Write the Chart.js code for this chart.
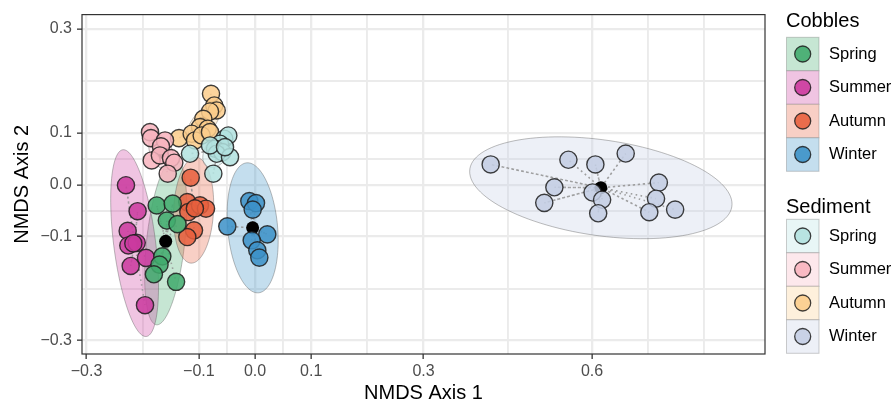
<!DOCTYPE html>
<html>
<head>
<meta charset="utf-8">
<script src="https://cdn.jsdelivr.net/npm/chart.js@4.4.1/dist/chart.umd.min.js"></script>
<style>
  html, body { margin: 0; padding: 0; background: #fff; }
  #wrap { width: 896px; height: 403px; }
</style>
</head>
<body>
<div id="wrap"><canvas id="nmds"></canvas></div>
<script>
const seasons = ['Spring', 'Summer', 'Autumn', 'Winter'];
const cobbleColors = ['#41ab6e', '#cc3a9f', '#e8603e', '#3d92c8'];
const sedimentColors = ['#b2e2e0', '#f8b4bf', '#fccd8c', '#c4cee4'];

// NMDS scores [axis1, axis2]
const cobSpring = [[-0.175, -0.040], [-0.1465, -0.0365], [-0.157, -0.069], [-0.138, -0.076],
  [-0.165, -0.138], [-0.170, -0.154], [-0.180, -0.1725], [-0.1405, -0.187]];
const cobSummer = [[-0.2297, -0.001], [-0.209, -0.051], [-0.2267, -0.089], [-0.2255, -0.117],
  [-0.2106, -0.112], [-0.2166, -0.113], [-0.194, -0.141], [-0.2213, -0.1565], [-0.1958, -0.232]];
const cobAutumn = [[-0.1145, 0.0135], [-0.1205, -0.0335], [-0.1187, -0.0527], [-0.0979, -0.0398],
  [-0.0872, -0.0462], [-0.1086, -0.0879], [-0.1205, -0.1008], [-0.107, -0.0457]];
const cobWinter = [[-0.0493, -0.0802], [-0.0101, -0.0315], [0.0018, -0.0354], [-0.0041, -0.048],
  [0.0219, -0.0956], [-0.0059, -0.1071], [0.0041, -0.1263], [0.0077, -0.1404]];

const sedSpring = [[-0.1157, 0.0596], [-0.0742, 0.0212], [-0.0547, 0.0885], [-0.0475, 0.0948],
  [-0.0623, 0.0788], [-0.0712, 0.0692], [-0.0582, 0.0627], [-0.0682, 0.0596], [-0.0445, 0.0531],
  [-0.0801, 0.0756], [-0.0534, 0.0723]];
const sedSummer = [[-0.1869, 0.1012], [-0.1852, 0.0896], [-0.1602, 0.0852], [-0.1674, 0.0737],
  [-0.1839, 0.0467], [-0.1693, 0.0563], [-0.1495, 0.0512], [-0.1437, 0.0423], [-0.1554, 0.0212]];
const sedAutumn = [[-0.0783, 0.175], [-0.0725, 0.1525], [-0.0682, 0.1429], [-0.0801, 0.141],
  [-0.092, 0.1269], [-0.0979, 0.1108], [-0.0842, 0.1077], [-0.1353, 0.0896], [-0.1127, 0.0981],
  [-0.1068, 0.0852], [-0.0949, 0.0948], [-0.0801, 0.1012]];
const sedWinter = [[0.4196, 0.039], [0.558, 0.048], [0.606, 0.039], [0.660, 0.060], [0.533, -0.005],
  [0.515, -0.035], [0.601, -0.015], [0.618, -0.029], [0.611, -0.055], [0.719, 0.004],
  [0.714, -0.027], [0.702, -0.053], [0.748, -0.048]];

// ellipse [semi-axis 1, semi-axis 2, angle of axis 1 in degrees], centred on group centroid
const cobEllipses = [[0.1615, 0.034, 84.2], [0.181, 0.0374, 96.6], [0.102, 0.0356, 87.5], [0.1256, 0.0445, 94.7]];
const sedEllipses = [[0.037, 0.022, 60], [0.035, 0.02, 110], [0.045, 0.02, 55], [0.236, 0.092, -9]];

const xTickValues = [-0.3, -0.1, 0.0, 0.1, 0.3, 0.6];
const xTickLabels = ['\u22120.3', '\u22120.1', '0.0', '0.1', '0.3', '0.6'];
const xMinorGrid = [-0.2, -0.05, 0.05, 0.2, 0.45, 0.7, 0.8];
const yTickValues = [-0.3, -0.1, 0.0, 0.1, 0.3];
const yTickLabels = ['\u22120.3', '\u22120.1', '0.0', '0.1', '0.3'];
const yMinorGrid = [-0.2, -0.05, 0.05, 0.2];

const groups = [
  { pts: cobSpring, color: cobbleColors[0], ell: cobEllipses[0] },
  { pts: cobSummer, color: cobbleColors[1], ell: cobEllipses[1] },
  { pts: cobAutumn, color: cobbleColors[2], ell: cobEllipses[2] },
  { pts: cobWinter, color: cobbleColors[3], ell: cobEllipses[3] },
  { pts: sedSpring, color: sedimentColors[0], ell: sedEllipses[0] },
  { pts: sedSummer, color: sedimentColors[1], ell: sedEllipses[1] },
  { pts: sedAutumn, color: sedimentColors[2], ell: sedEllipses[2] },
  { pts: sedWinter, color: sedimentColors[3], ell: sedEllipses[3] },
];

const FONT = "'Liberation Sans', Arial, Helvetica, sans-serif";

function rgba(hex, a) {
  const n = parseInt(hex.slice(1), 16);
  return `rgba(${n >> 16},${(n >> 8) & 255},${n & 255},${a})`;
}
function centroid(pts) {
  const sx = pts.reduce((s, p) => s + p[0], 0), sy = pts.reduce((s, p) => s + p[1], 0);
  return [sx / pts.length, sy / pts.length];
}

const datasets = [];
groups.forEach(g => {
  const c = centroid(g.pts);
  const spider = [];
  g.pts.forEach(p => { spider.push({ x: c[0], y: c[1] }); spider.push({ x: p[0], y: p[1] }); });
  datasets.push({
    type: 'line', data: spider, order: 3, borderColor: 'rgba(150,150,150,0.9)',
    borderWidth: 1.6, borderDash: [1.5, 3.5], pointRadius: 0, fill: false, tension: 0
  });
  datasets.push({
    type: 'scatter', data: [{ x: c[0], y: c[1] }], order: 2,
    pointRadius: 6.5, backgroundColor: '#000', borderColor: '#000', borderWidth: 0
  });
  datasets.push({
    type: 'scatter', data: g.pts.map(p => ({ x: p[0], y: p[1] })), order: 1,
    pointRadius: 8.6, backgroundColor: rgba(g.color, 0.86), borderColor: 'rgba(30,30,30,0.85)', borderWidth: 1.4
  });
});

const ellipsePlugin = {
  id: 'ellipses',
  beforeDatasetsDraw(chart) {
    const { ctx, chartArea, scales: { x, y } } = chart;
    ctx.save();
    ctx.beginPath();
    ctx.rect(chartArea.left, chartArea.top, chartArea.width, chartArea.height);
    ctx.clip();
    groups.forEach(g => {
      const [cx, cy] = centroid(g.pts);
      const [a, b, deg] = g.ell;
      const t = deg * Math.PI / 180;
      ctx.beginPath();
      for (let i = 0; i <= 120; i++) {
        const u = i / 120 * 2 * Math.PI;
        const dx = a * Math.cos(u) * Math.cos(t) - b * Math.sin(u) * Math.sin(t);
        const dy = a * Math.cos(u) * Math.sin(t) + b * Math.sin(u) * Math.cos(t);
        const px = x.getPixelForValue(cx + dx), py = y.getPixelForValue(cy + dy);
        if (i === 0) ctx.moveTo(px, py); else ctx.lineTo(px, py);
      }
      ctx.closePath();
      ctx.fillStyle = rgba(g.color, 0.3);
      ctx.fill();
      ctx.strokeStyle = 'rgba(90,90,90,0.45)';
      ctx.lineWidth = 0.9;
      ctx.stroke();
    });
    ctx.restore();
  }
};

const frameAndLegend = {
  id: 'frameAndLegend',
  afterDraw(chart) {
    const { ctx, chartArea } = chart;
    ctx.save();
    ctx.strokeStyle = '#333';
    ctx.lineWidth = 1.2;
    ctx.strokeRect(chartArea.left, chartArea.top, chartArea.width, chartArea.height);

    const drawBlock = (title, colors, titleY, keyTop) => {
      ctx.fillStyle = '#000';
      ctx.font = `20px ${FONT}`;
      ctx.textBaseline = 'middle';
      ctx.textAlign = 'left';
      ctx.fillText(title, 786, titleY);
      seasons.forEach((s, i) => {
        const top = keyTop + i * 33.5;
        ctx.fillStyle = '#fff';
        ctx.fillRect(786.5, top, 32.5, 33.5);
        ctx.fillStyle = rgba(colors[i], 0.3);
        ctx.fillRect(786.5, top, 32.5, 33.5);
        ctx.strokeStyle = 'rgba(90,90,90,0.3)';
        ctx.lineWidth = 1;
        ctx.strokeRect(786.5, top, 32.5, 33.5);
        ctx.beginPath();
        ctx.arc(802.7, top + 16.7, 8, 0, 2 * Math.PI);
        ctx.fillStyle = rgba(colors[i], 0.9);
        ctx.fill();
        ctx.strokeStyle = 'rgba(30,30,30,0.85)';
        ctx.lineWidth = 1.3;
        ctx.stroke();
        ctx.fillStyle = '#000';
        ctx.font = `16.5px ${FONT}`;
        ctx.fillText(s, 829, top + 17);
      });
    };
    drawBlock('Cobbles', cobbleColors, 21.5, 37.3);
    drawBlock('Sediment', sedimentColors, 207.5, 219.3);
    ctx.restore();
  }
};

function axisTicks(values, minor) {
  return scale => {
    scale.ticks = values.concat(minor).map(v => ({ value: v }));
  };
}
function tickLabel(values, labels) {
  return v => {
    const i = values.findIndex(t => Math.abs(t - v) < 1e-9);
    return i >= 0 ? labels[i] : '';
  };
}
function isMajor(values) {
  return ctx => ctx.tick && values.some(t => Math.abs(t - ctx.tick.value) < 1e-9);
}

const majorX = isMajor(xTickValues), majorY = isMajor(yTickValues);

new Chart(document.getElementById('nmds'), {
  type: 'scatter',
  data: { datasets },
  options: {
    responsive: true,
    maintainAspectRatio: false,
    animation: false,
    events: [],
    layout: { padding: { top: 14, right: 131, bottom: 0, left: 0 } },
    plugins: { legend: { display: false }, tooltip: { enabled: false } },
    scales: {
      x: {
        type: 'linear', min: -0.308, max: 0.908,
        afterBuildTicks: axisTicks(xTickValues, xMinorGrid),
        afterFit: s => { s.height = 49; },
        border: { display: false },
        grid: {
          color: '#ebebeb', lineWidth: c => majorX(c) ? 2.3 : 1.9, tickLength: 5, tickWidth: 1.3,
          tickColor: c => majorX(c) ? '#333' : 'rgba(0,0,0,0)'
        },
        ticks: {
          autoSkip: false, maxRotation: 0, padding: 3, color: '#4d4d4d',
          font: { family: FONT, size: 16 },
          callback: tickLabel(xTickValues, xTickLabels)
        },
        title: {
          display: true, text: 'NMDS Axis 1', color: '#000',
          font: { family: FONT, size: 20, lineHeight: 1 }, padding: { top: 0, bottom: 0 }
        }
      },
      y: {
        type: 'linear', min: -0.326, max: 0.3275,
        afterBuildTicks: axisTicks(yTickValues, yMinorGrid),
        afterFit: s => { s.width = 82; },
        border: { display: false },
        grid: {
          color: '#ebebeb', lineWidth: c => majorY(c) ? 2.3 : 1.9, tickLength: 5, tickWidth: 1.3,
          tickColor: c => majorY(c) ? '#333' : 'rgba(0,0,0,0)'
        },
        ticks: {
          autoSkip: false, padding: 5, color: '#4d4d4d',
          font: { family: FONT, size: 16 },
          callback: tickLabel(yTickValues, yTickLabels)
        },
        title: {
          display: true, text: 'NMDS Axis 2', color: '#000',
          font: { family: FONT, size: 20, lineHeight: 1.2 }, padding: { top: 10, bottom: 0 }
        }
      }
    }
  },
  plugins: [ellipsePlugin, frameAndLegend]
});
</script>
</body>
</html>
